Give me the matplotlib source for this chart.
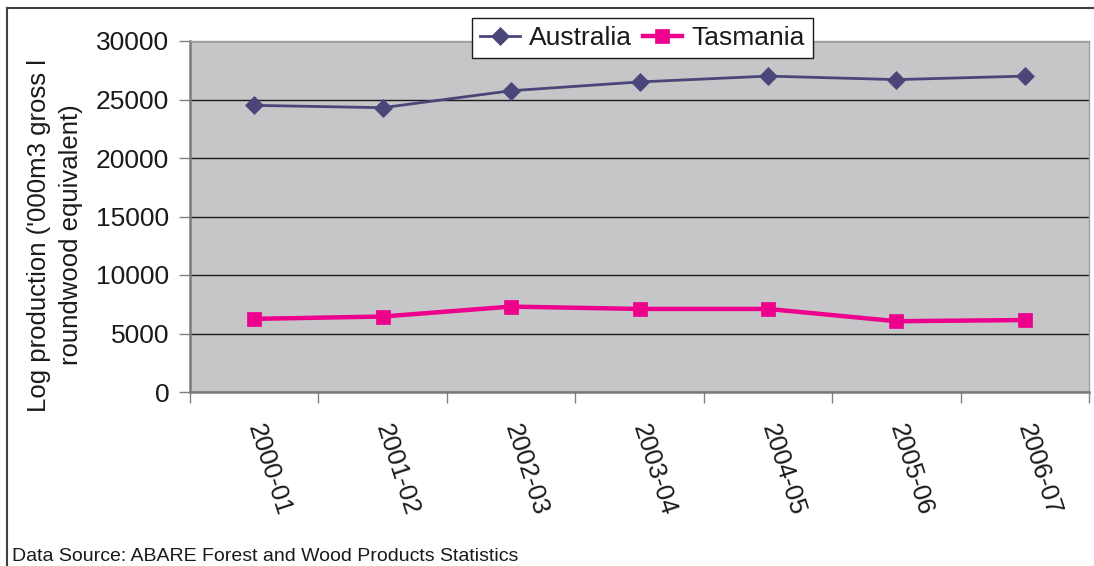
import matplotlib.pyplot as plt
from matplotlib.lines import Line2D
import numpy as np

plt.rcParams['font.family'] = ['Liberation Sans', 'DejaVu Sans']

years = ['2000-01', '2001-02', '2002-03', '2003-04', '2004-05', '2005-06', '2006-07']
australia = [24500, 24300, 25750, 26500, 27000, 26700, 27000]
tasmania = [6250, 6450, 7300, 7100, 7100, 6050, 6150]
yticks = [0, 5000, 10000, 15000, 20000, 25000, 30000]

x = np.arange(len(years))

fig = plt.figure(figsize=(10.94, 5.66), dpi=100)
ax = fig.add_axes([190 / 1094, 1 - 392 / 566, 899 / 1094, 351 / 566])
ax.set_facecolor('#c6c6c8')

ax.plot(x, australia, color='#4b4679', lw=2, marker='D', ms=8.7,
        mec='#4b4679', mew=0.5, label='Australia', zorder=3)
ax.plot(x, tasmania, color='#ec008c', lw=3.2, marker='s', ms=10.3,
        mec='#ec008c', mew=0.5, label='Tasmania', zorder=3)

ax.set_xlim(-0.5, len(years) - 0.5)
ax.set_ylim(0, 30000)
ax.set_yticks(yticks)
ax.set_yticklabels([str(v) for v in yticks])
ax.yaxis.grid(True, color='#1a1a1a', lw=1)
ax.set_axisbelow(True)

# category boundaries carry the tick marks, labels sit in the middle
ax.set_xticks(np.arange(len(years) + 1) - 0.5)
ax.set_xticklabels([])
ax.set_xticks(x, minor=True)
ax.set_xticklabels(years, minor=True, rotation=-72, rotation_mode='anchor',
                   ha='left', va='center')
ax.tick_params(axis='x', which='minor', length=0, pad=24, labelsize=18.5,
               colors='#1a1a1a')
ax.tick_params(axis='x', which='major', length=8, width=1, color='#808080',
               direction='out')
ax.tick_params(axis='y', length=8, width=1, color='#808080', pad=7,
               labelsize=19, labelcolor='#1a1a1a')

for side in ['top', 'right']:
    ax.spines[side].set_color('#a0a0a0')
    ax.spines[side].set_linewidth(1)
for side in ['left', 'bottom']:
    ax.spines[side].set_color('#7a7a7a')
    ax.spines[side].set_linewidth(1.8)

ax.set_ylabel("Log production ('000m3 gross l\nroundwood equivalent)",
              fontsize=18.5, color='#1a1a1a', linespacing=1.45)
ax.yaxis.label.set_va('center')
ax.yaxis.set_label_coords(-0.15, 0.447)

leg = fig.legend(loc='center', bbox_to_anchor=(642.5 / 1094, 1 - 38 / 566),
                 ncol=2, fontsize=19, frameon=True, fancybox=False,
                 handlelength=1.5, handletextpad=0.35, columnspacing=0.4,
                 borderpad=0.32, borderaxespad=0)
leg.get_frame().set_edgecolor('#1a1a1a')
leg.get_frame().set_linewidth(1)
leg.get_frame().set_facecolor('white')
leg.get_frame().set_alpha(1)
for t in leg.get_texts():
    t.set_color('#1a1a1a')

# outer frame of the original chart
fig.add_artist(Line2D([7 / 1094, 1], [1 - 7.5 / 566, 1 - 7.5 / 566],
                      color='#404040', lw=1.5))
fig.add_artist(Line2D([7 / 1094, 7 / 1094], [0, 1 - 7.5 / 566],
                      color='#404040', lw=1.5))

fig.text(12 / 1094, 1 - 561 / 566,
         'Data Source: ABARE Forest and Wood Products Statistics',
         fontsize=14, color='#1a1a1a', va='baseline', ha='left')

fig.savefig('out.png', dpi=100)
